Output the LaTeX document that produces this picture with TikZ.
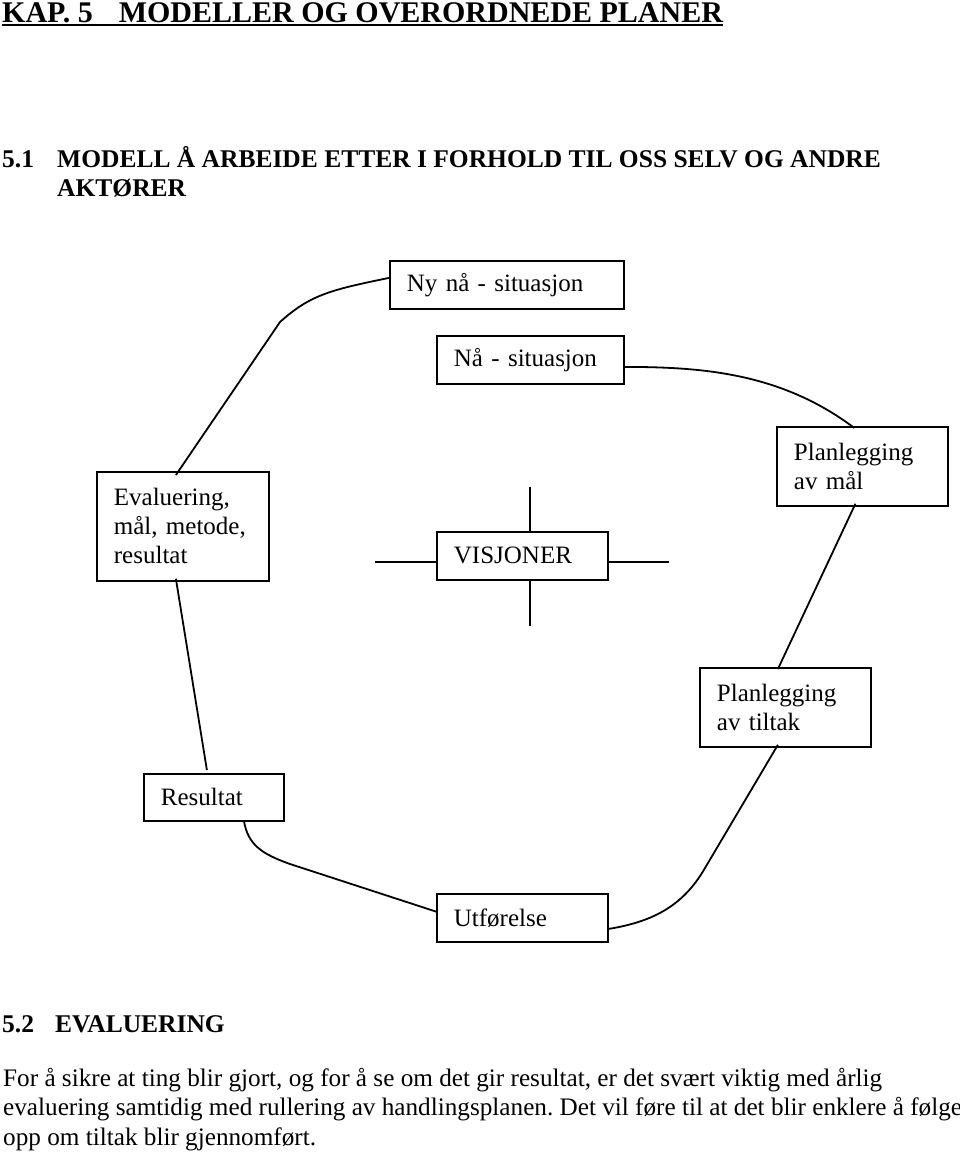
\documentclass[tikz,border=0pt]{standalone}
\usepackage{fontspec}
\setmainfont{Liberation Serif}
\usetikzlibrary{calc}
\frenchspacing
\begin{document}
\begin{tikzpicture}[x=1pt,y=-1pt,
  box/.style={draw, line width=1.8pt, anchor=north west, inner xsep=17pt, inner ysep=0pt, align=left, font=\fontsize{25}{29}\selectfont},
  link/.style={line width=1.8pt},
  head/.style={anchor=base west, inner sep=0pt, font=\bfseries\fontsize{25.5}{30}\selectfont},
  body/.style={anchor=north west, inner sep=0pt, align=left, font=\fontsize{25.2}{29.5}\selectfont}]
\useasboundingbox (0,0) rectangle (960,1154);
% headings
\node[anchor=base west, inner sep=0pt, font=\bfseries\fontsize{30}{32}\selectfont] (title) at (2,22) {KAP. 5\hspace{26pt}MODELLER OG OVERORDNEDE PLANER};
\draw[line width=2pt] ([yshift=-2.5pt]title.base west) -- ([yshift=-2.5pt]title.base east);
\node[head] (h51n) at (2,167) {5.1};
\node[head] (h51) at (57,167) {MODELL Å ARBEIDE ETTER I FORHOLD TIL OSS SELV OG ANDRE};
\node[head] (h51b) at (57,196) {AKTØRER};
\node[head] (h52n) at (2,1032) {5.2};
\node[head] (h52) at (55,1032) {EVALUERING};
\node[body] (txt) at (3,1068) {For å sikre at ting blir gjort, og for å se om det gir resultat, er det svært viktig med årlig\\evaluering samtidig med rullering av handlingsplanen. Det vil føre til at det blir enklere å følge\\opp om tiltak blir gjennomført.};
% boxes
\node[box, text width=200, minimum height=48] (ny) at (389,260) {Ny nå - situasjon};
\node[box, text width=153, minimum height=48] (na) at (436,335) {Nå - situasjon};
\node[box, text width=138, minimum height=109] (eval) at (96,471) {Evaluering,\\mål, metode,\\resultat};
\node[box, text width=137, minimum height=48] (visj) at (436,531) {VISJONER};
\node[box, text width=137, minimum height=79] (pmal) at (776,426) {Planlegging\\av mål};
\node[box, text width=137, minimum height=79] (ptil) at (699,667) {Planlegging\\av tiltak};
\node[box, text width=106, minimum height=47] (res) at (143,773) {Resultat};
\node[box, text width=137, minimum height=48] (utf) at (436,893) {Utførelse};
% cross around VISJONER
\coordinate (vtop) at (530,487);
\coordinate (vbot) at (530,626);
\coordinate (vleft) at (375,562);
\coordinate (vright) at (669,562);
\draw[link] (vtop) -- (vtop |- visj.north);
\draw[link] (vbot) -- (vbot |- visj.south);
\draw[link] (vleft) -- (vleft -| visj.west);
\draw[link] (vright) -- (vright -| visj.east);
% cycle connectors
\draw[link] ($(ny.west)+(0,-7)$) .. controls (330,290) and (310,295) .. (280,322) -- ($(eval.north)+(-7,4)$);
\draw[link] ($(na.east)+(-1,7)$) .. controls (700,367) and (780,372) .. ($(pmal.north)+(-8,2)$);
\draw[link] ($(pmal.south)+(-7,-3)$) -- ($(ptil.north)+(-7.5,2)$);
\draw[link] ($(ptil.south)+(-7.5,-3)$) -- (705,868) .. controls (682,908) and (650,922) .. ($(utf.east)+(0,11)$);
\draw[link] ($(utf.west)+(1,-6)$) -- (290,864) .. controls (262,854) and (248,845) .. ($(res.south)+(30,-1)$);
\draw[link] ($(res.north)+(-7,-3)$) -- ($(eval.south)+(-7,-3)$);
\end{tikzpicture}
\end{document}
